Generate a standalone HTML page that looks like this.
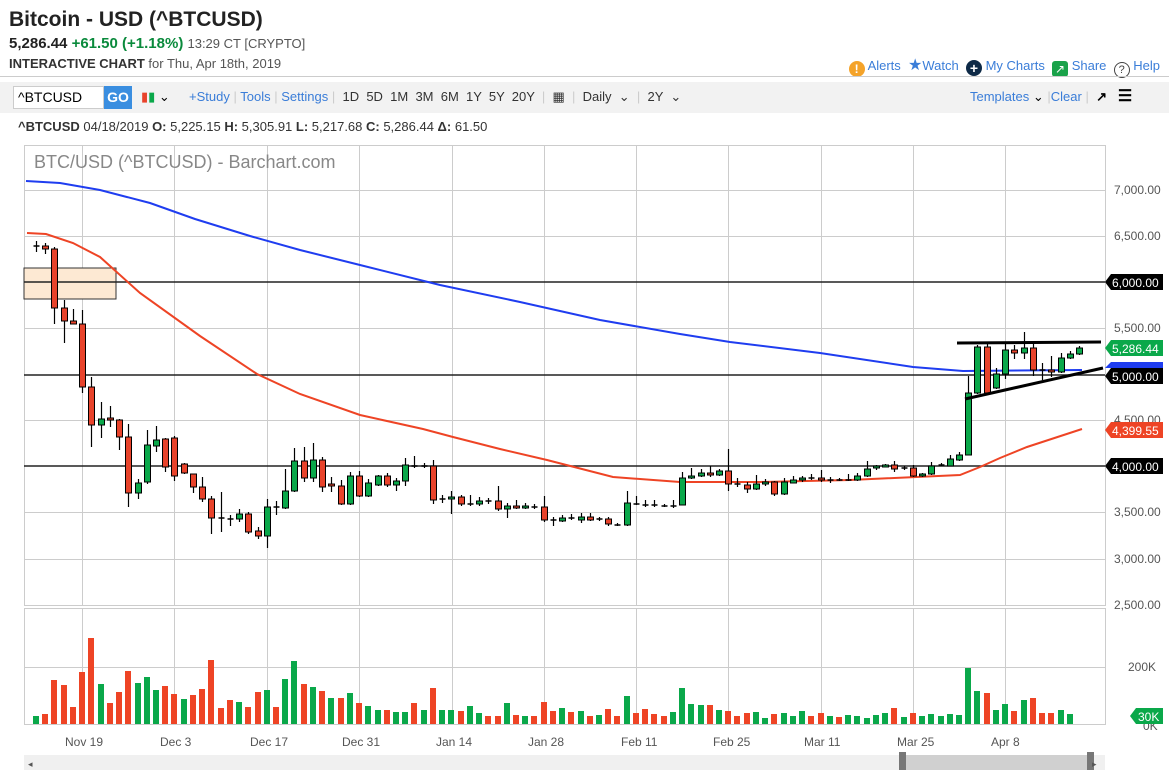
<!DOCTYPE html>
<html><head><meta charset="utf-8"><style>
body{margin:0;width:1169px;height:778px;background:#fff;font-family:"Liberation Sans",sans-serif;overflow:hidden;position:relative}
.a{position:absolute;white-space:nowrap}
.lk{color:#3a7dd8}
</style></head><body>
<div class="a" style="left:9px;top:8px;font-size:21px;color:#222;font-weight:600">Bitcoin - USD (^BTCUSD)</div>
<div class="a" style="left:9px;top:35px;font-size:15px;color:#222"><b>5,286.44</b> <b style="color:#0a8a3c">+61.50 (+1.18%)</b> <span style="font-size:13px;color:#555">13:29 CT [CRYPTO]</span></div>
<div class="a" style="left:9px;top:56px;font-size:13px;color:#333"><b>INTERACTIVE CHART</b> <span style="color:#555">for Thu, Apr 18th, 2019</span></div>
<div class="a" style="right:9px;top:55px;font-size:13px">
<span style="display:inline-block;width:16px;height:16px;border-radius:8px;background:#f4a32a;color:#fff;text-align:center;font-weight:bold;font-size:12px;line-height:16px;vertical-align:-3px">!</span> <span class="lk">Alerts</span>
&nbsp;<span style="color:#3a7dd8;font-size:16px">★</span><span class="lk">Watch</span>
&nbsp;<span style="display:inline-block;width:16px;height:16px;border-radius:8px;background:#0e2a47;color:#fff;text-align:center;font-weight:bold;font-size:14px;line-height:16px;vertical-align:-3px">+</span> <span class="lk">My Charts</span>
&nbsp;<span style="display:inline-block;width:16px;height:16px;border-radius:3px;background:#1aa24a;color:#fff;text-align:center;font-size:12px;line-height:16px;vertical-align:-3px">↗</span> <span class="lk">Share</span>
&nbsp;<span style="display:inline-block;width:14px;height:14px;border-radius:8px;border:1px solid #444;color:#444;text-align:center;font-size:11px;line-height:14px;vertical-align:-3px">?</span> <span class="lk">Help</span></div>
<div class="a" style="left:0;top:76px;width:1169px;height:1px;background:#ccc"></div>
<div class="a" style="left:0;top:82px;width:1169px;height:31px;background:#f2f2f2"></div>
<div class="a" style="left:13px;top:86px;border:1px solid #ccc;background:#fff;font-size:14px;line-height:21px;padding-left:4px;box-sizing:border-box;width:91px;height:23px">^BTCUSD</div>
<div class="a" style="left:104px;top:86px;width:28px;height:23px;background:#3a8ee0;color:#fff;font-weight:bold;font-size:14px;line-height:23px;text-align:center">GO</div>
<div class="a" style="left:141px;top:89px;font-size:13px"><span style="color:#e8432b">▮</span><span style="color:#0aa84a">▮</span> ⌄</div>
<div class="a" style="left:189px;top:89px;font-size:13px;line-height:16px;color:#333"><span class="lk">+Study</span> <span style="color:#ccc">|</span> <span class="lk">Tools</span> <span style="color:#ccc">|</span> <span class="lk">Settings</span> <span style="color:#ccc">|</span>&nbsp; 1D &nbsp;5D &nbsp;1M &nbsp;3M &nbsp;6M &nbsp;1Y &nbsp;5Y &nbsp;20Y &nbsp;<span style="color:#ccc">|</span>&nbsp; ▦ &nbsp;<span style="color:#ccc">|</span>&nbsp; Daily &nbsp;⌄ &nbsp;<span style="color:#ccc">|</span>&nbsp; 2Y &nbsp;⌄</div>
<div class="a" style="left:970px;top:89px;font-size:13px;line-height:16px"><span class="lk">Templates</span> ⌄ <span style="color:#ccc">|</span><span class="lk">Clear</span> <span style="color:#ccc">|</span>&nbsp; <b>↗</b> &nbsp; <b style="font-size:16px;line-height:16px">☰</b></div>
<div class="a" style="left:18px;top:119px;font-size:13px;color:#333"><b>^BTCUSD</b> 04/18/2019 <b>O:</b> 5,225.15 <b>H:</b> 5,305.91 <b>L:</b> 5,217.68 <b>C:</b> 5,286.44 <b>Δ:</b> 61.50</div>
<svg class="a" style="left:0;top:0" width="1169" height="778" id="s">
<g stroke="#ccc" stroke-width="1" id="grid"></g>
<rect x="24.5" y="145.5" width="1081" height="460" fill="none" stroke="#ccc"/>
<rect x="24.5" y="608.5" width="1081" height="116" fill="none" stroke="#ccc"/>
<text x="34" y="168" font-size="18" fill="#888" font-family="Liberation Sans">BTC/USD (^BTCUSD) - Barchart.com</text>
<rect x="24" y="268" width="92" height="31" fill="#fde9d3" stroke="#333" stroke-width="1"/>
<g stroke="#222" stroke-width="1.5"><line x1="24" y1="282" x2="1105" y2="282"/><line x1="24" y1="375" x2="1105" y2="375"/><line x1="24" y1="466" x2="1105" y2="466"/></g>
<polyline fill="none" stroke="#1f3df0" stroke-width="2" points="26,181 60,183 100,190 150,203 195,219 250,236 300,250 360,265 440,285 520,302 600,320 680,334 730,342 820,353 913,367 963,371 1082,370"/>
<polyline fill="none" stroke="#ee4425" stroke-width="2" points="27,233 46,234 73,243 100,257 140,293 200,336 257,374 300,394 360,415 423,429 453,437 500,449 547,460 613,477 680,482 760,482 850,480 960,475 980,467 1000,458 1027,447 1082,429"/>
<g id="c"></g><g id="v"></g>
<g stroke="#000" stroke-width="3"><line x1="957" y1="343" x2="1101" y2="342"/><line x1="965" y1="399" x2="1103" y2="368"/></g>
<g font-size="12" fill="#555" font-family="Liberation Sans">
<text x="1114" y="194">7,000.00</text><text x="1114" y="240">6,500.00</text><text x="1114" y="332">5,500.00</text><text x="1114" y="424">4,500.00</text><text x="1114" y="516">3,500.00</text><text x="1114" y="563">3,000.00</text><text x="1114" y="609">2,500.00</text><text x="1128" y="671">200K</text><text x="1143" y="730">0K</text>
<text x="65" y="746">Nov 19</text><text x="160" y="746">Dec 3</text><text x="250" y="746">Dec 17</text><text x="342" y="746">Dec 31</text><text x="436" y="746">Jan 14</text><text x="528" y="746">Jan 28</text><text x="621" y="746">Feb 11</text><text x="713" y="746">Feb 25</text><text x="804" y="746">Mar 11</text><text x="897" y="746">Mar 25</text><text x="991" y="746">Apr 8</text>
</g>
<g font-size="12" font-family="Liberation Sans">
<path d="M1105,282 l6,-8 h52 v16 h-52z" fill="#000"/><text x="1112" y="287" fill="#fff">6,000.00</text>
<path d="M1105,348 l6,-8 h52 v16 h-52z" fill="#0aa84a"/><text x="1112" y="353" fill="#fff">5,286.44</text>
<path d="M1105,368 l6,-6 h52 v6z" fill="#1f3df0"/>
<path d="M1105,376 l6,-8 h52 v16 h-52z" fill="#000"/><text x="1112" y="381" fill="#fff">5,000.00</text>
<path d="M1105,430 l6,-8 h52 v16 h-52z" fill="#ee4425"/><text x="1112" y="435" fill="#fff">4,399.55</text>
<path d="M1105,466 l6,-8 h52 v16 h-52z" fill="#000"/><text x="1112" y="471" fill="#fff">4,000.00</text>
<path d="M1130,716 l6,-8 h27 v16 h-27z" fill="#0aa84a"/><text x="1138" y="721" fill="#fff">30K</text>
</g>
<rect x="24" y="755" width="1081" height="15" fill="#f0f0f0"/>
<rect x="902" y="755" width="188" height="15" fill="#d0d0d0"/>
<rect x="899" y="752" width="7" height="18" fill="#777"/><rect x="1087" y="752" width="7" height="18" fill="#777"/>
<text x="1092" y="767" font-size="9" fill="#555">▸</text><text x="28" y="767" font-size="9" fill="#555">◂</text>
</svg>
<script>
var S="http://www.w3.org/2000/svg";
function el(p,t,a){var e=document.createElementNS(S,t);for(var k in a)e.setAttribute(k,a[k]);p.appendChild(e);return e;}
var g=document.getElementById('grid');
[190,236,328,420,512,559].forEach(function(y){el(g,'line',{x1:24,x2:1105,y1:y+.5,y2:y+.5});});
el(g,'line',{x1:24,x2:1105,y1:667.5,y2:667.5});
[82,174,267,359,452,544,636,728,821,913,1005].forEach(function(x){el(g,'line',{x1:x+.5,x2:x+.5,y1:145,y2:605});el(g,'line',{x1:x+.5,x2:x+.5,y1:608,y2:724});});
var D=[[246,246,241,252,'d'],[246,249,243,254,'r'],[249,308,247,324,'r'],[308,321,300,343,'r'],[321,324,309,324,'r'],[324,387,310,393,'r'],[387,425,377,447,'r'],[419,425,402,438,'g'],[418,420,406,427,'r'],[420,437,419,450,'r'],[437,493,424,507,'r'],[483,493,479,499,'g'],[445,482,430,484,'g'],[440,446,426,452,'g'],[439,467,438,472,'r'],[438,476,436,481,'r'],[464,473,463,474,'r'],[474,487,474,493,'r'],[487,499,477,502,'r'],[499,518,496,534,'r'],[518,518,492,532,'d'],[519,519,515,526,'d'],[514,519,509,522,'g'],[514,532,512,534,'r'],[531,536,527,539,'r'],[507,536,499,548,'g'],[507,507,501,515,'d'],[491,508,469,509,'g'],[461,491,448,492,'g'],[461,478,447,482,'r'],[460,478,443,482,'g'],[460,487,457,492,'r'],[484,486,477,492,'r'],[486,504,480,505,'r'],[476,504,472,505,'g'],[476,496,471,497,'r'],[483,496,479,497,'g'],[476,485,475,486,'g'],[476,485,473,487,'r'],[481,485,478,491,'g'],[465,481,458,486,'g'],[466,466,456,468,'d'],[466,466,463,468,'d'],[466,500,460,504,'r'],[499,499,495,503,'d'],[497,499,491,514,'g'],[497,504,495,506,'r'],[504,504,495,506,'d'],[501,504,497,506,'g'],[501,501,498,504,'d'],[501,509,486,511,'r'],[506,509,503,518,'g'],[506,508,500,509,'r'],[506,508,503,509,'g'],[507,507,504,509,'d'],[507,520,496,522,'r'],[520,520,517,526,'d'],[518,521,515,522,'g'],[518,518,514,520,'d'],[517,520,513,523,'g'],[517,520,513,521,'r'],[519,519,517,521,'d'],[519,524,517,526,'r'],[525,525,523,526,'d'],[503,525,491,526,'g'],[504,504,496,505,'d'],[505,505,500,507,'d'],[505,505,500,507,'d'],[506,506,504,507,'d'],[506,506,500,508,'d'],[478,505,472,505,'g'],[476,478,468,479,'g'],[473,476,469,477,'g'],[473,475,466,477,'r'],[471,475,469,476,'g'],[471,484,449,491,'r'],[484,484,478,487,'d'],[485,489,482,493,'r'],[484,489,475,490,'g'],[482,484,479,486,'g'],[482,494,481,496,'r'],[482,494,478,495,'g'],[480,483,476,483,'g'],[478,480,476,482,'g'],[478,478,474,480,'d'],[478,480,470,482,'r'],[480,480,477,483,'d'],[480,480,478,481,'d'],[480,480,474,481,'d'],[476,480,473,481,'g'],[469,476,461,477,'g'],[466,468,465,470,'g'],[465,466,464,467,'g'],[465,469,461,472,'r'],[468,468,466,470,'d'],[468,476,465,477,'r'],[474,476,473,477,'g'],[466,474,462,475,'g'],[465,465,463,466,'d'],[459,466,455,466,'g'],[455,460,452,461,'g'],[393,455,376,455,'g'],[347,393,345,394,'g'],[347,393,343,394,'r'],[374,388,368,389,'g'],[350,374,344,379,'g'],[350,353,345,359,'r'],[348,353,332,359,'g'],[348,370,343,376,'r'],[370,370,363,380,'d'],[370,372,356,377,'r'],[358,372,353,373,'g'],[354,358,351,359,'g'],[348,354,346,355,'g']];
var c=document.getElementById('c');
D.forEach(function(d,i){var x=Math.round(36+i*9.23)+.5;
el(c,'line',{x1:x,x2:x,y1:d[2],y2:d[3],stroke:'#000','stroke-width':1.2});
if(d[4]=='d'){el(c,'line',{x1:x-3,x2:x+3,y1:d[0],y2:d[0],stroke:'#000','stroke-width':1.5});}
else el(c,'rect',{x:x-3,y:d[0],width:6,height:Math.max(2,d[1]-d[0]),fill:d[4]=='g'?'#0aa84a':'#e8432b',stroke:'#000','stroke-width':1});});
var V="g8 r10 r44 r39 r17 r52 r86 g40 r21 r32 r53 g41 g47 g34 r38 r30 g25 r29 r35 r64 r16 r24 g22 r17 r32 g34 r17 g45 g63 r40 g37 r33 g26 r26 g31 r21 g18 g14 r14 g12 g12 r21 g14 r36 g14 g14 r13 g18 g11 r8 r8 g21 r9 g8 r8 r22 r13 g16 r12 g13 r8 g9 r15 r8 g28 r11 r15 r10 r8 g12 g36 g20 g19 r19 g14 r13 r8 r11 g12 g6 r10 g11 g8 g13 r8 r11 g8 r7 g9 g8 g6 g9 g11 r16 g7 r11 g8 g10 g8 g10 g9 g56 g33 r31 g14 g20 r13 g24 r26 r11 r11 g14 g10".split(' ');
var v=document.getElementById('v');
V.forEach(function(s,i){var h=+s.slice(1);var x=Math.round(36+i*9.23);
el(v,'rect',{x:x-3,y:724-h,width:6,height:h,fill:s[0]=='g'?'#0aa84a':'#ee4425'});});
</script>
</body></html>
